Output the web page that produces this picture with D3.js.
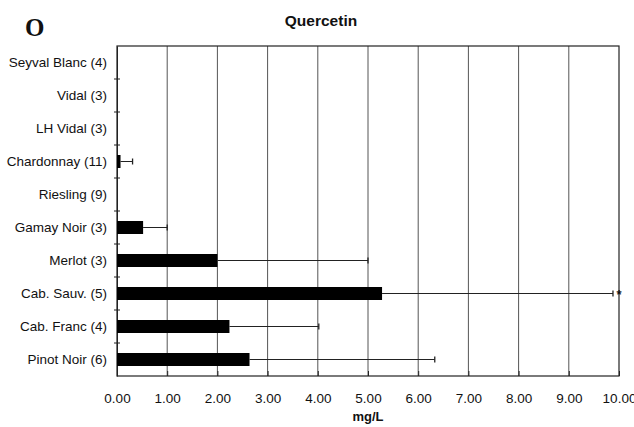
<!DOCTYPE html>
<html>
<head>
<meta charset="utf-8">
<script src="https://cdn.jsdelivr.net/npm/d3@7"></script>
<style>
  body { margin: 0; background: #fff; }
  text { font-family: Arial, "Liberation Sans", sans-serif; fill: #111; }
</style>
</head>
<body>
<div id="chart"></div>
<script>
// wine varieties, top to bottom
const varieties = ['Seyval Blanc (4)', 'Vidal (3)', 'LH Vidal (3)', 'Chardonnay (11)', 'Riesling (9)',
                   'Gamay Noir (3)', 'Merlot (3)', 'Cab. Sauv. (5)', 'Cab. Franc (4)', 'Pinot  Noir (6)']
// mean quercetin, mg/L
const means = [0, 0, 0, 0.07, 0, 0.52, 2.0, 5.28, 2.24, 2.64]
// upper end of error bar, mg/L
const upper = [0, 0, 0, 0.31, 0, 1.0, 5.0, 9.88, 4.02, 6.33]
const xTicks = [0, 1, 2, 3, 4, 5, 6, 7, 8, 9, 10]

const width = 634, height = 427
const margin = {top: 46, right: 15, bottom: 51, left: 117}

const svg = d3.select('#chart').append('svg')
    .attr('width', width)
    .attr('height', height)

let x = d3.scaleLinear()
    .domain([0, 10])
    .range([margin.left, width - margin.right])

let yb = d3.scaleBand()
    .domain(varieties)
    .range([margin.top, height - margin.bottom])

// vertical grid lines
svg.append('g').attr('id', 'grid')
    .selectAll('line').data(xTicks.slice(1, -1))
    .enter().append('line')
    .attr('x1', d => x(d)).attr('x2', d => x(d))
    .attr('y1', margin.top).attr('y2', height - margin.bottom)
    .attr('stroke', '#555')
    .attr('stroke-width', 1)

// frame
svg.append('rect')
    .attr('x', margin.left).attr('y', margin.top)
    .attr('width', x(10) - margin.left)
    .attr('height', height - margin.bottom - margin.top)
    .attr('fill', 'none')
    .attr('stroke', '#222')
    .attr('stroke-width', 1.2)

// bottom axis
let xAxis = d3.axisBottom(x)
    .tickValues(xTicks)
    .tickFormat(d3.format('.2f'))
    .tickSizeOuter(0)
    .tickSizeInner(-5)
    .tickPadding(17)
let gx = svg.append('g')
    .attr('transform', 'translate(0,' + (height - margin.bottom) + ')')
    .call(xAxis)
gx.select('.domain').remove()
gx.selectAll('.tick line').attr('stroke', '#222')
gx.selectAll('text')
    .style('font-size', '13.5px')
    .style('font-family', 'Arial, "Liberation Sans", sans-serif')
    .attr('fill', '#111')

// left axis: labels centred in band, ticks on band borders
let gy = svg.append('g')
    .attr('transform', 'translate(' + margin.left + ',0)')
    .call(d3.axisLeft(yb).tickSize(0).tickPadding(10))
gy.select('.domain').attr('stroke', '#222')
gy.selectAll('text')
    .style('font-size', '13.5px')
    .style('font-family', 'Arial, "Liberation Sans", sans-serif')
    .attr('fill', '#111')
svg.append('g').selectAll('line').data(varieties.slice(1))
    .enter().append('line')
    .attr('x1', margin.left - 3).attr('x2', margin.left + 3)
    .attr('y1', d => yb(d)).attr('y2', d => yb(d))
    .attr('stroke', '#222')

// bars
svg.append('g').selectAll('rect').data(varieties)
    .enter().append('rect')
    .attr('x', x(0))
    .attr('y', d => yb(d) + yb.bandwidth() / 2 - 6.5)
    .attr('width', (d, i) => x(means[i]) - x(0))
    .attr('height', 13)
    .attr('fill', '#000')

// error bars
let err = svg.append('g').selectAll('g')
    .data(varieties.filter((d, i) => upper[i] > means[i]))
    .enter().append('g')
err.append('line')
    .attr('x1', d => x(means[varieties.indexOf(d)]))
    .attr('x2', d => x(upper[varieties.indexOf(d)]))
    .attr('y1', d => yb(d) + yb.bandwidth() / 2)
    .attr('y2', d => yb(d) + yb.bandwidth() / 2)
    .attr('stroke', '#222').attr('stroke-width', 1)
err.append('line')
    .attr('x1', d => x(upper[varieties.indexOf(d)]))
    .attr('x2', d => x(upper[varieties.indexOf(d)]))
    .attr('y1', d => yb(d) + yb.bandwidth() / 2 - 3)
    .attr('y2', d => yb(d) + yb.bandwidth() / 2 + 3)
    .attr('stroke', '#222').attr('stroke-width', 1.3)

// star marking the clipped error bar of Cab. Sauv.
svg.append('text')
    .attr('x', x(10))
    .attr('y', yb('Cab. Sauv. (5)') + yb.bandwidth() / 2 + 5)
    .attr('text-anchor', 'middle')
    .style('font-size', '13px')
    .style('font-weight', 'bold')
    .text('*')

// title, panel letter, axis label
svg.append('text')
    .attr('x', 321).attr('y', 26)
    .attr('text-anchor', 'middle')
    .style('font-size', '15.5px').style('font-weight', 'bold')
    .text('Quercetin')
svg.append('text')
    .attr('x', 25).attr('y', 36)
    .style('font-family', '"Liberation Serif", "DejaVu Serif", serif')
    .style('font-size', '25px').style('font-weight', 'bold')
    .text('O')
svg.append('text')
    .attr('x', x(5)).attr('y', 421)
    .attr('text-anchor', 'middle')
    .style('font-size', '13px').style('font-weight', 'bold')
    .text('mg/L')
</script>
</body>
</html>
